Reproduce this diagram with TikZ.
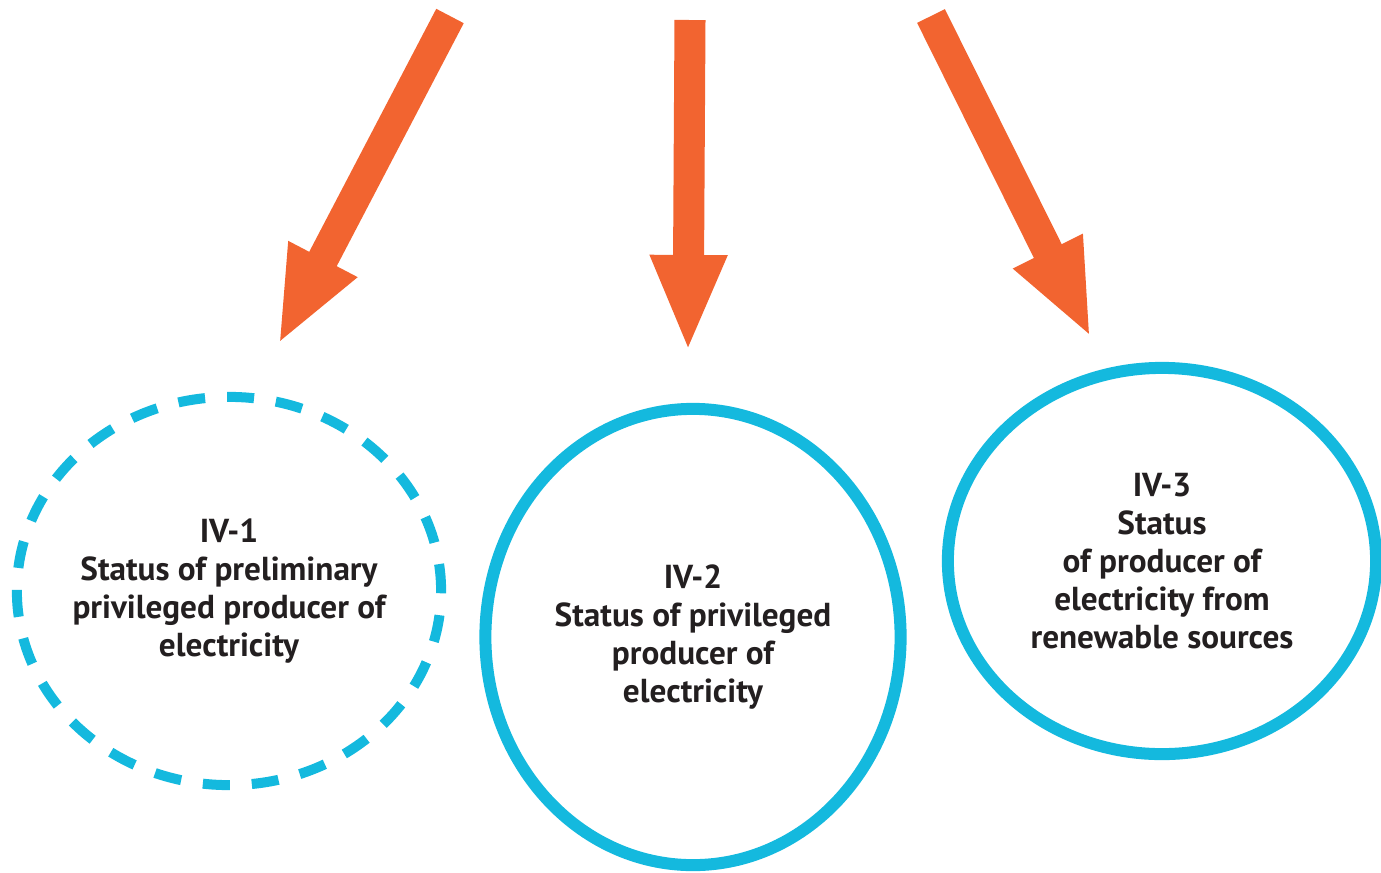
\documentclass[tikz,border=0pt]{standalone}
\usepackage{fontspec}
\setmainfont{PT Sans}
\usetikzlibrary{arrows.meta,shapes.geometric}
\definecolor{arr}{HTML}{F26430}
\definecolor{ring}{HTML}{14B9DE}
\definecolor{txt}{HTML}{231F20}
\tikzset{
  flow/.style={-{Triangle[length=0.97cm,width=0.70cm]}, line width=0.31cm, arr},
  status/.style={ellipse, draw=ring, text=txt, align=center,
    inner xsep=-0.6cm, inner ysep=-0.3cm,
    font=\bfseries\fontsize{9.45}{10.85}\selectfont},
}
\begin{document}
\begin{tikzpicture}[x=0.01cm,y=-0.01cm]
\useasboundingbox (0,0) rectangle (1381,872);
% ---- statuses --------------------------------------------------------------
\node[status, line width=0.10cm, dash pattern=on 0.27cm off 0.22cm,
  minimum width=4.24cm, minimum height=3.88cm] (iv1) at (229,591)
  {IV-1\\Status of preliminary\\privileged producer of\\electricity};
\node[status, line width=0.12cm, minimum width=4.15cm, minimum height=4.56cm]
  (iv2) at (693,637)
  {IV-2\\Status of privileged\\producer of\\electricity};
\node[status, line width=0.12cm, minimum width=4.28cm, minimum height=3.86cm]
  (iv3) at (1162,561)
  {IV-3\\Status\\of producer of\\electricity from\\renewable sources};
% ---- arrows ----------------------------------------------------------------
\coordinate (s1) at (450,16);
\coordinate (t1) at (278,345);
\coordinate (s2) at (690,20);
\coordinate (t2) at (688,352);
\coordinate (s3) at (931,16);
\coordinate (t3) at (1091,338);
\draw[flow] (s1) -- (t1);
\draw[flow] (s2) -- (t2);
\draw[flow] (s3) -- (t3);
\end{tikzpicture}
\end{document}
